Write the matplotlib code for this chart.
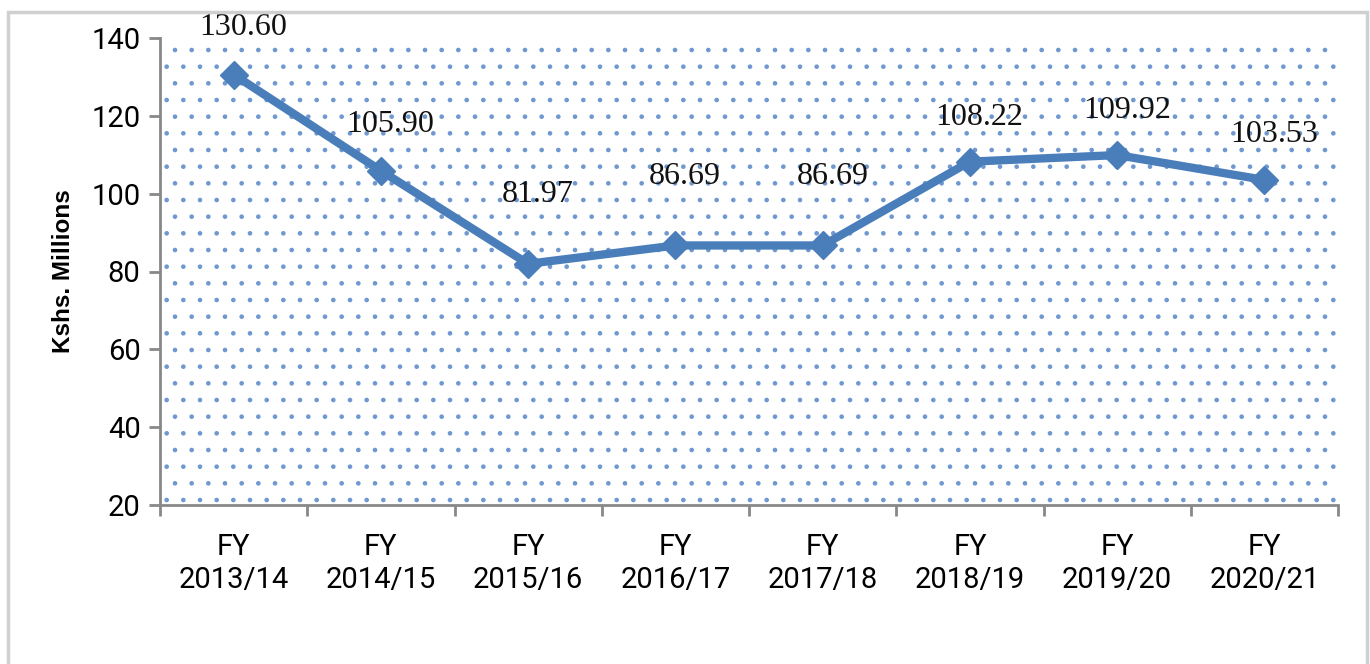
import matplotlib.pyplot as plt
from matplotlib.patches import Rectangle

years = ["FY\n2013/14", "FY\n2014/15", "FY\n2015/16", "FY\n2016/17",
         "FY\n2017/18", "FY\n2018/19", "FY\n2019/20", "FY\n2020/21"]
valores = [130.60, 105.90, 81.97, 86.69, 86.69, 108.22, 109.92, 103.53]
# desplazamiento vertical de las etiquetas (puntos)
offs = [34, 33, 50, 50, 50, 32, 32, 33]

azul = "#4a7ebb"
puntos = "#6f98d0"
plt.rcParams["hatch.color"] = puntos
plt.rcParams["hatch.linewidth"] = 0.9

fig = plt.figure(figsize=(13.7, 6.64), dpi=100)
# marco gris alrededor
fig.patches.append(Rectangle((8/1370, -0.02), 1359/1370, 1.02 - 12/664,
                             transform=fig.transFigure, fill=False,
                             edgecolor="#d0d0d0", linewidth=2.5))
ax = fig.add_axes([160/1370, 1 - 505/664, 1178/1370, 467/664])

x = list(range(len(valores)))
ax.add_patch(Rectangle((0, 0), 1, 0.98, transform=ax.transAxes, fill=False,
                       hatch=".", edgecolor=puntos, linewidth=0, zorder=0))
ax.plot(x, valores, color=azul, linewidth=6, marker="D", markersize=14,
        zorder=3, solid_joinstyle="round")

for i, v in enumerate(valores):
    ax.annotate(f"{v:.2f}", (x[i], v), xytext=(7, offs[i]),
                textcoords="offset points", ha="center", va="center",
                fontsize=23, family="Liberation Serif", color="#111111")

ax.set_xlim(-0.5, len(valores) - 0.5)
ax.set_ylim(20, 140)
ax.set_yticks(range(20, 141, 20))
ax.set_xticks([i - 0.5 for i in range(len(valores) + 1)])
ax.set_xticklabels([])
ax.set_xticks(x, minor=True)
ax.set_xticklabels(years, minor=True, fontsize=21, family="Roboto",
                   linespacing=1.25)
ax.tick_params(axis="x", which="minor", length=0, pad=20)
ax.tick_params(axis="x", which="major", length=8, width=2, color="#888888")
ax.tick_params(axis="y", length=8, width=2, color="#888888", labelsize=21,
               pad=6)
for t in ax.get_yticklabels():
    t.set_family("Roboto")

for s in ["top", "right"]:
    ax.spines[s].set_visible(False)
for s in ["left", "bottom"]:
    ax.spines[s].set_color("#888888")
    ax.spines[s].set_linewidth(2)

ax.set_ylabel("Kshs. Millions", fontsize=17.5, fontweight="bold",
              family="Liberation Sans", labelpad=12)

fig.savefig("out.png", dpi=100)
